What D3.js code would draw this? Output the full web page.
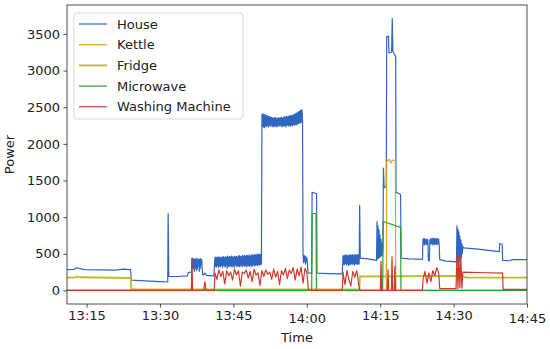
<!DOCTYPE html>
<html>
<head>
<meta charset="utf-8">
<script src="https://cdn.jsdelivr.net/npm/d3@7"></script>
<style>
  html, body { margin: 0; padding: 0; background: #fff; }
  text { font-family: "DejaVu Sans", sans-serif; }
</style>
</head>
<body>
<div id="chart"></div>
<script>
// ---------------------------------------------------
// DATA — appliance power readings (W)
// steady parts are [time, value]; busy stretches are
// [start, sampling step in seconds, values]
// ---------------------------------------------------
const seriesNames = ["House", "Kettle", "Fridge", "Microwave", "Washing Machine"];

const houseSteady = [
  ["13:11:00", 285], ["13:12:30", 288], ["13:12:50", 310], ["13:13:30", 300], ["13:14:30", 285],
  ["13:18:00", 280], ["13:21:00", 278], ["13:22:30", 290], ["13:24:00", 285], ["13:24:08", 140],
  ["13:27:00", 130], ["13:30:00", 120], ["13:31:35", 115], ["13:31:40", 1050], ["13:31:48", 190],
  ["13:33:30", 190], ["13:35:38", 200], ["13:35:45", 245], ["13:36:25", 250],
  ["13:38:45", 210], ["13:39:10", 235], ["13:39:30", 205], ["13:41:00", 200],
  ["14:00:15", 240], ["14:01:00", 235], ["14:01:05", 1340], ["14:02:00", 1320], ["14:02:05", 235],
  ["14:04:30", 230], ["14:07:15", 225],
  ["14:10:48", 1160], ["14:10:56", 440], ["14:12:30", 430], ["14:14:15", 410],
  ["14:15:40", 1670], ["14:15:48", 1400], ["14:16:14", 1420], ["14:16:20", 3460], ["14:16:42", 3470],
  ["14:16:47", 3240], ["14:17:20", 3250], ["14:17:28", 3710], ["14:17:36", 3260], ["14:18:10", 3190],
  ["14:18:14", 1340], ["14:19:10", 1310], ["14:19:17", 440], ["14:21:00", 430], ["14:23:38", 425],
  ["14:27:10", 420], ["14:28:30", 400], ["14:30:35", 390],
  ["14:32:05", 580], ["14:35:00", 565], ["14:39:20", 530], ["14:39:25", 640], ["14:39:55", 630],
  ["14:40:02", 410], ["14:41:30", 405], ["14:42:00", 420], ["14:45:00", 420]
];

const houseBursts = [
  ["13:36:32", 6, [430, 280, 440, 300, 420, 260, 435, 310, 425, 270, 440, 290, 415, 330, 430, 260,
                   420, 300, 435, 350, 420, 280]],
  ["13:41:14", 6, [450, 330, 455, 320, 445, 340, 460, 315, 450, 335, 455, 325, 440, 350, 460, 310,
                   450, 340, 465, 330, 445, 320, 460, 345, 455, 300, 470, 335, 450, 325, 465, 340,
                   455, 330, 470, 320, 460, 345, 450, 315, 465, 335, 460, 350, 470, 325, 455, 340,
                   470, 330, 475, 320, 465, 345, 460, 335, 475, 325, 470, 350, 480, 330, 465, 340,
                   475, 320, 480, 345, 470, 335, 485, 330, 470, 350, 480, 325, 490, 340, 475, 355,
                   485, 335, 490, 345, 480, 350, 495, 340, 485, 360, 495, 345, 490, 355, 500, 360]],
  ["13:50:50", 6, [2400, 2240, 2410, 2230, 2405, 2220, 2395, 2245, 2390, 2235, 2385, 2250, 2380, 2230,
                   2375, 2255, 2370, 2240, 2365, 2260, 2360, 2235, 2355, 2245, 2350, 2230, 2360, 2250,
                   2355, 2240, 2345, 2230, 2350, 2255, 2360, 2240, 2350, 2260, 2355, 2245, 2365, 2235,
                   2350, 2250, 2360, 2240, 2370, 2255, 2365, 2230, 2375, 2250, 2370, 2260, 2380, 2245,
                   2375, 2255, 2385, 2240, 2390, 2260, 2380, 2250, 2395, 2265, 2400, 2255, 2410, 2270,
                   2415, 2260, 2425, 2275, 2435, 2280, 2440, 2290, 2450, 2285, 2460, 2300, 2465, 2310]],
  ["13:59:14", 6, [500, 380, 480, 400, 470, 360, 460, 390, 440, 370]],
  ["14:07:24", 6, [470, 360, 480, 355, 475, 370, 490, 350, 480, 365, 470, 340, 485, 360, 475, 350,
                   490, 365, 480, 355, 490, 370, 475, 345, 485, 360, 490, 370, 480, 355, 490, 365,
                   485, 360]],
  ["14:14:21", 6, [940, 430, 880, 440, 830, 450, 760, 460, 700, 470, 650, 480, 600]],
  ["14:23:45", 6, [700, 630, 710, 620, 705, 640, 690, 625, 700, 630, 690, 420, 400, 410, 690, 630,
                   710, 640, 700, 625, 715, 635, 705, 620, 710, 640, 700, 630, 710, 625, 700, 640,
                   705, 630]],
  ["14:30:41", 6, [880, 360, 840, 380, 800, 400, 740, 420, 690, 450, 640, 500, 600]]
];

const kettleSteady = [
  ["13:11:00", 0], ["14:16:15", 0], ["14:16:20", 1760], ["14:16:50", 1790], ["14:17:10", 1740],
  ["14:17:30", 1780], ["14:18:05", 1770], ["14:18:12", 0], ["14:45:00", 0]
];

const fridgeSteady = [
  ["13:11:00", 175], ["13:12:40", 175], ["13:13:00", 190], ["13:13:30", 180], ["13:24:00", 170],
  ["13:24:10", 15], ["14:10:45", 15], ["14:10:52", 190], ["14:30:00", 200], ["14:31:50", 195],
  ["14:32:30", 175], ["14:45:00", 175]
];

const microwaveSteady = [
  ["13:11:00", 0], ["14:01:00", 0], ["14:01:07", 1050], ["14:01:53", 1050], ["14:01:58", 0],
  ["14:15:30", 0], ["14:15:38", 940], ["14:16:30", 920], ["14:19:10", 860], ["14:19:15", 0],
  ["14:45:00", 0]
];

const washerSteady = [
  ["13:11:00", 0], ["13:36:25", 0], ["13:36:32", 440], ["13:36:40", 0], ["13:38:55", 0],
  ["13:39:10", 120], ["13:39:25", 0], ["13:41:05", 0],
  ["14:00:20", 0], ["14:07:15", 0], ["14:10:50", 0],
  ["14:15:02", 0], ["14:15:10", 400], ["14:15:18", 0], ["14:16:28", 0], ["14:16:36", 280],
  ["14:16:44", 0], ["14:17:17", 0], ["14:17:25", 460], ["14:17:33", 0], ["14:17:52", 0],
  ["14:18:00", 330], ["14:18:08", 0], ["14:23:38", 0],
  ["14:27:10", 25], ["14:30:30", 25],
  ["14:35:00", 245], ["14:40:00", 235], ["14:40:08", 15], ["14:45:00", 15]
];

const washerBursts = [
  ["13:41:14", 24, [240, 150, 280, 190, 260, 90, 270, 200, 250, 140, 290, 210, 270, 60, 250, 230,
                    280, 170, 260, 120, 290, 210, 240, 70, 270, 190, 280, 220, 250, 150, 290, 180,
                    260, 80, 270, 210, 300, 160, 280, 230, 310, 140, 290, 200, 320, 100, 300, 240]],
  ["14:07:24", 24, [250, 80, 270, 150, 60, 260, 180, 270, 90]],
  ["14:23:45", 24, [150, 260, 100, 240, 120, 270, 200, 310, 240]],
  ["14:30:41", 12, [480, 20, 470, 40, 460, 30, 250]]
];

const yTicks = [0, 500, 1000, 1500, 2000, 2500, 3000, 3500];
const xTickLabels = ["13:15", "13:30", "13:45", "14:00", "14:15", "14:30", "14:45"];
const xStart = "13:11:00";
const xEnd = "14:45:00";

// ---------------------------------------------------
// BUILD POINT LISTS
// ---------------------------------------------------
const parseT = d3.timeParse("%H:%M:%S");

const buildSeries = (steady, bursts = []) => {
  const pts = steady.map(([t, v]) => ({ t: parseT(t), v }));
  bursts.forEach(([start, step, vals]) => {
    const t0 = parseT(start);
    vals.forEach((v, i) => pts.push({ t: new Date(+t0 + i * step * 1000), v }));
  });
  return pts.sort((a, b) => a.t - b.t);
};

const series = [
  { name: "House", values: buildSeries(houseSteady, houseBursts), color: "#2f66c2", w: 1.2 },
  { name: "Kettle", values: buildSeries(kettleSteady), color: "#e69f22", w: 1.2 },
  { name: "Fridge", values: buildSeries(fridgeSteady), color: "#bcbd22", w: 1.8 },
  { name: "Microwave", values: buildSeries(microwaveSteady), color: "#2ca02c", w: 1.2 },
  { name: "Washing Machine", values: buildSeries(washerSteady, washerBursts), color: "#d03a2c", w: 1.2 }
];

// ---------------------------------------------------
// DIMENSIONS
// ---------------------------------------------------
const width = 550;
const height = 349;
const margin = { top: 5, right: 23, bottom: 45, left: 67 };
const innerWidth = width - margin.left - margin.right;
const innerHeight = height - margin.top - margin.bottom;

const svg = d3.select("#chart")
  .append("svg")
  .attr("width", width)
  .attr("height", height);

const g = svg.append("g")
  .attr("transform", `translate(${margin.left},${margin.top})`);

// ---------------------------------------------------
// SCALES
// ---------------------------------------------------
const x = d3.scaleTime()
  .domain([parseT(xStart), parseT(xEnd)])
  .range([0, innerWidth]);

const y = d3.scaleLinear()
  .domain([-185, 3895])
  .range([innerHeight, 0]);

// ---------------------------------------------------
// LINES (clipped to the axes box)
// ---------------------------------------------------
g.append("clipPath")
  .attr("id", "plot-clip")
  .append("rect")
  .attr("width", innerWidth)
  .attr("height", innerHeight);

const line = d3.line()
  .x(d => x(d.t))
  .y(d => y(d.v));

g.append("g")
  .attr("clip-path", "url(#plot-clip)")
  .selectAll("path")
  .data(series)
  .join("path")
  .attr("fill", "none")
  .attr("stroke", d => d.color)
  .attr("stroke-width", d => d.w)
  .attr("stroke-linejoin", "round")
  .attr("d", d => line(d.values));

// ---------------------------------------------------
// AXES
// ---------------------------------------------------
const fmt = d3.timeFormat("%H:%M");

const xAxis = g.append("g")
  .attr("transform", `translate(0,${innerHeight})`)
  .call(d3.axisBottom(x)
    .tickValues(xTickLabels.map(s => parseT(s + ":00")))
    .tickFormat(fmt)
    .tickSize(3.5)
    .tickPadding(3.5));

xAxis.selectAll("text")
  .attr("dy", d => (fmt(d) === "14:00" || fmt(d) === "14:45") ? "0.95em" : "0.71em");

const yAxis = g.append("g")
  .call(d3.axisLeft(y)
    .tickValues(yTicks)
    .tickFormat(d3.format("d"))
    .tickSize(3.5)
    .tickPadding(3.5));

[xAxis, yAxis].forEach(ax => {
  ax.select(".domain").remove();
  ax.selectAll("line").attr("stroke", "#222").attr("stroke-width", 0.8);
  ax.selectAll("text")
    .attr("fill", "#222")
    .style("font-size", "13px")
    .style("font-family", "'DejaVu Sans', sans-serif");
});

// axes box
g.append("rect")
  .attr("width", innerWidth)
  .attr("height", innerHeight)
  .attr("fill", "none")
  .attr("stroke", "#222")
  .attr("stroke-width", 0.8);

// axis labels
g.append("text")
  .attr("x", innerWidth / 2)
  .attr("y", innerHeight + 38)
  .attr("text-anchor", "middle")
  .attr("fill", "#222")
  .style("font-size", "13px")
  .text("Time");

g.append("text")
  .attr("transform", "rotate(-90)")
  .attr("x", -innerHeight / 2)
  .attr("y", -margin.left + 14)
  .attr("text-anchor", "middle")
  .attr("fill", "#222")
  .style("font-size", "13px")
  .text("Power");

// ---------------------------------------------------
// LEGEND
// ---------------------------------------------------
const legend = svg.append("g")
  .attr("transform", "translate(74,13)");

legend.append("rect")
  .attr("width", 169)
  .attr("height", 106)
  .attr("rx", 3)
  .attr("fill", "#fff")
  .attr("fill-opacity", 0.8)
  .attr("stroke", "#d0d0d0")
  .attr("stroke-width", 0.8);

const legendItem = legend.selectAll(".legend-item")
  .data(series)
  .join("g")
  .attr("class", "legend-item")
  .attr("transform", (d, i) => `translate(0,${11 + i * 20.7})`);

legendItem.append("line")
  .attr("x1", 5)
  .attr("x2", 33)
  .attr("stroke", d => d.color)
  .attr("stroke-width", d => d.w);

legendItem.append("text")
  .attr("x", 43)
  .attr("dy", "0.35em")
  .attr("fill", "#222")
  .style("font-size", "13px")
  .text(d => d.name);
</script>
</body>
</html>
